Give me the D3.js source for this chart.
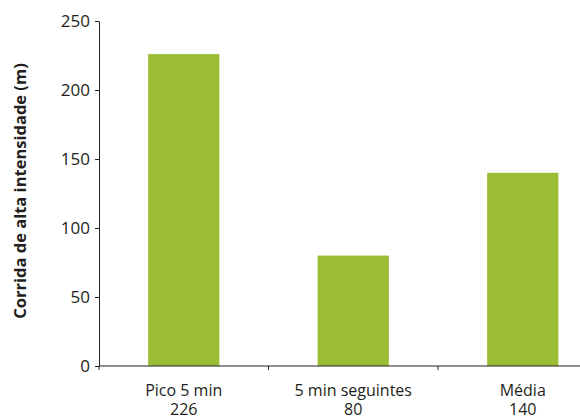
<!DOCTYPE html>
<html>
<head>
<meta charset="utf-8">
<script src="https://cdn.jsdelivr.net/npm/d3@7"></script>
<style>
  html, body { margin: 0; padding: 0; background: #fff; }
  svg { display: block; font-family: "Open Sans", sans-serif; }
</style>
</head>
<body>
<svg id="chart" width="580" height="419"></svg>
<script>
// Data
const categories = ["Pico 5 min", "5 min seguintes", "Média"];
const values = [226, 80, 140];
const yTicks = [0, 50, 100, 150, 200, 250];
const yTitle = "Corrida de alta intensidade (m)";

const svg = d3.select("#chart");
const color = "#9bbd33";
const ink = "#231f20";

const x = d3.scaleBand()
  .domain(categories)
  .range([99, 99 + 3 * 169.5])
  .paddingInner(0.58)
  .paddingOuter(0.29);

const y = d3.scaleLinear().domain([0, 250]).range([366, 21]);

// Bars
svg.append("g").selectAll("rect")
  .data(categories)
  .join("rect")
  .attr("x", d => x(d))
  .attr("y", (d, i) => y(values[i]))
  .attr("width", x.bandwidth())
  .attr("height", (d, i) => y(0) - y(values[i]))
  .attr("fill", color);

// Y axis
const yAxis = svg.append("g")
  .attr("transform", "translate(99,0)")
  .call(d3.axisLeft(y).tickValues(yTicks).tickSize(4).tickSizeOuter(0).tickPadding(5));
yAxis.select(".domain").attr("stroke", ink);
yAxis.selectAll(".tick line").attr("stroke", ink);
yAxis.selectAll(".tick text").attr("font-size", 17).attr("fill", ink).attr("font-family", "Open Sans");

// X axis line with ticks at category boundaries
const xg = svg.append("g");
xg.append("line")
  .attr("x1", 99).attr("x2", 580)
  .attr("y1", y(0)).attr("y2", y(0))
  .attr("stroke", ink);
xg.selectAll("line.tk")
  .data(categories)
  .join("line")
  .attr("class", "tk")
  .attr("x1", d => x(d) - x.step() * x.paddingOuter())
  .attr("x2", d => x(d) - x.step() * x.paddingOuter())
  .attr("y1", y(0)).attr("y2", y(0) + 4)
  .attr("stroke", ink);

// Category labels with value underneath
const lab = xg.selectAll("text.cat")
  .data(categories)
  .join("text")
  .attr("class", "cat")
  .attr("text-anchor", "middle")
  .attr("font-size", 16)
  .attr("fill", ink);
lab.append("tspan")
  .attr("x", d => x(d) + x.bandwidth() / 2)
  .attr("y", 396)
  .text(d => d);
lab.append("tspan")
  .attr("x", d => x(d) + x.bandwidth() / 2)
  .attr("y", 415)
  .text((d, i) => values[i]);

// Y title
svg.append("text")
  .attr("transform", "translate(26,191) rotate(-90)")
  .attr("text-anchor", "middle")
  .attr("font-size", 16.5)
  .attr("font-weight", "bold")
  .attr("fill", ink)
  .text(yTitle);
</script>
</body>
</html>
